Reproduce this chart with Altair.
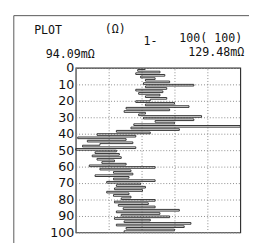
import altair as alt
import pandas as pd

index = list(range(1, 101))
values_mohm = [
    109.08, 107.41, 112.20, 107.00, 113.24, 108.04, 111.16, 109.08, 114.28, 108.66,
    119.49, 109.08, 113.66, 107.00, 112.83, 107.62, 112.20, 109.08, 113.66, 110.12,
    107.00, 115.32, 109.08, 118.45, 104.92, 114.28, 104.50, 109.08, 107.62, 121.15,
    108.66, 119.49, 111.16, 115.32, 106.58, 129.48, 105.96, 116.37, 102.83, 110.12,
    98.67, 107.00, 94.51, 104.92, 96.59, 106.37, 99.29, 95.55, 107.00, 94.09,
    102.83, 98.25, 103.46, 97.63, 103.87, 98.67, 102.42, 99.71, 104.92, 97.00,
    111.16, 99.29, 105.96, 102.21, 106.37, 98.25, 105.54, 102.21, 111.16, 100.75,
    108.04, 102.83, 109.08, 102.42, 108.45, 100.75, 105.54, 102.21, 105.96, 103.87,
    111.16, 102.42, 109.70, 103.25, 111.16, 104.29, 116.37, 102.83, 112.20, 103.87,
    114.28, 102.42, 110.12, 104.50, 118.86, 102.83, 117.41, 104.92, 115.32, 104.50,
]
x_min, x_max = 94.09, 129.48
x_grid = [101.168, 108.246, 115.324, 122.402]
y_ticks = list(range(0, 101, 10))

df = pd.DataFrame({"n": index, "r": values_mohm})

FONT = "DejaVu Sans"
MONO = "DejaVu Sans Mono"
W, H = 170, 170

line = alt.Chart(df).mark_line(color="#333", strokeWidth=1, interpolate="step-after").encode(
    x=alt.X("r:Q", scale=alt.Scale(domain=[x_min, x_max], nice=False, zero=False),
            axis=alt.Axis(values=x_grid, labels=False, ticks=False, domain=False, title=None,
                          grid=True, gridColor="#888", gridDash=[1, 2], gridWidth=1)),
    y=alt.Y("n:Q", scale=alt.Scale(domain=[0, 100], reverse=True, nice=False),
            axis=alt.Axis(values=y_ticks, ticks=False, domain=False, title=None,
                          labelFont=FONT, labelFontSize=13, labelColor="#111", labelPadding=2,
                          grid=True, gridColor="#888", gridDash=[1, 2], gridWidth=1)),
    order="n:Q",
)

def txt(s, x, y, align="left", size=12):
    return alt.Chart(pd.DataFrame({"t": [s]})).mark_text(
        align=align, baseline="middle", font=MONO, fontSize=size, color="#111"
    ).encode(text="t:N", x=alt.value(x), y=alt.value(y))

texts = [
    txt("PLOT", -43, -39),
    txt("(Ω)", 30, -40),
    txt("1-", 70, -28),
    txt("100( 100)", 172, -31, align="right"),
    txt("94.09mΩ", -31, -14),
    txt("129.48mΩ", 174, -16, align="right"),
]

frame_left = alt.Chart(pd.DataFrame({"a": [0]})).mark_rule(color="#555", strokeWidth=1).encode(
    x=alt.value(-64), y=alt.value(-54), y2=alt.value(H + 20))
frame_top = alt.Chart(pd.DataFrame({"a": [0]})).mark_rule(color="#555", strokeWidth=1).encode(
    x=alt.value(-64), x2=alt.value(W + 20), y=alt.value(-54))

chart = alt.layer(line, frame_left, frame_top, *texts).properties(
    width=W, height=H,
    autosize=alt.AutoSizeParams(type="none"),
    padding={"left": 70, "top": 58, "right": 9, "bottom": 7},
).configure_view(stroke="#333", strokeWidth=1.2)

chart.save("out.html", embed_options={"renderer": "svg", "actions": False})
